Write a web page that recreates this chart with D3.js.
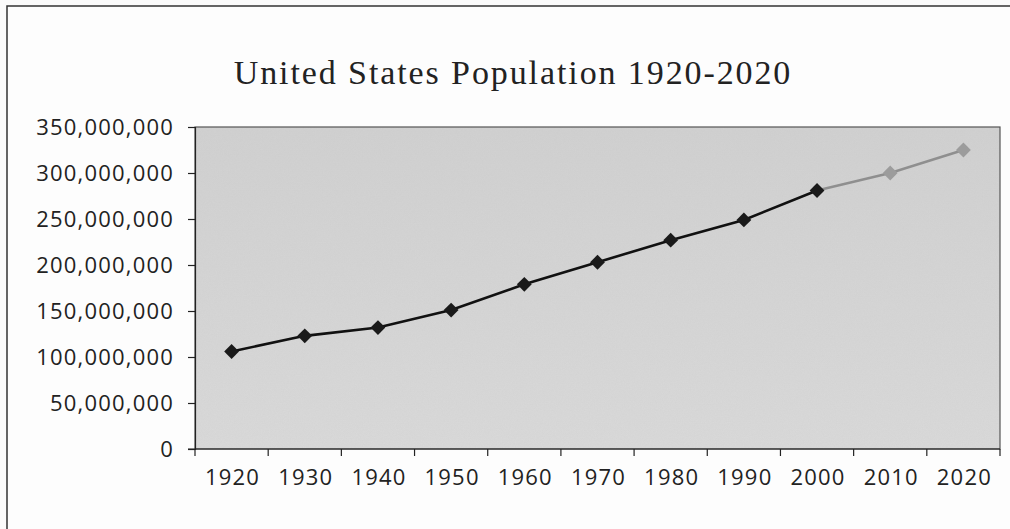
<!DOCTYPE html>
<html>
<head>
<meta charset="utf-8">
<script src="https://cdn.jsdelivr.net/npm/d3@7"></script>
<style>
  html, body { margin: 0; padding: 0; background: #fbfbfb; }
  svg { display: block; }
</style>
</head>
<body>
<svg id="chart" width="1010" height="529"></svg>
<script>
const title = "United States Population 1920-2020";
const years = ["1920","1930","1940","1950","1960","1970","1980","1990","2000","2010","2020"];
const actualYears = ["1920","1930","1940","1950","1960","1970","1980","1990","2000"];
const actualValues = [106000000, 123000000, 132000000, 151000000, 179000000, 203000000, 227000000, 249000000, 281000000];
const projYears = ["2000","2010","2020"];
const projValues = [281000000, 300000000, 325000000];
const yTicks = [0, 50000000, 100000000, 150000000, 200000000, 250000000, 300000000, 350000000];

const svg = d3.select("#chart");
const W = 1010, H = 529;
const m = { left: 195, right: 1000, top: 127, bottom: 449 };

const defs = svg.append("defs");
const grad = defs.append("linearGradient").attr("id", "bg").attr("x1", 0).attr("y1", 0).attr("x2", 0).attr("y2", 1);
grad.append("stop").attr("offset", "0%").attr("stop-color", "#d1d1d1");
grad.append("stop").attr("offset", "100%").attr("stop-color", "#dadada");
const f = defs.append("filter").attr("id", "grain").attr("x", 0).attr("y", 0).attr("width", 1).attr("height", 1);
f.append("feTurbulence").attr("type", "fractalNoise").attr("baseFrequency", 0.85).attr("numOctaves", 2).attr("seed", 3).attr("result", "n");
f.append("feColorMatrix").attr("in", "n").attr("type", "matrix")
  .attr("values", "0 0 0 0 0.5  0 0 0 0 0.5  0 0 0 0 0.5  0 0 0 0.35 0");

// outer frame
svg.append("rect").attr("x", 7).attr("y", 6).attr("width", W + 20).attr("height", H + 20)
  .attr("fill", "#fdfdfd").attr("stroke", "#333").attr("stroke-width", 1.5);

const x = d3.scaleBand().domain(years).range([m.left, m.right]).paddingInner(0).paddingOuter(0);
const y = d3.scaleLinear().domain([0, 350000000]).range([m.bottom, m.top]);

// plot area
svg.append("rect").attr("x", m.left).attr("y", m.top)
  .attr("width", m.right - m.left).attr("height", m.bottom - m.top)
  .attr("fill", "url(#bg)");
svg.append("rect").attr("x", m.left).attr("y", m.top)
  .attr("width", m.right - m.left).attr("height", m.bottom - m.top)
  .attr("fill", "#000").attr("filter", "url(#grain)").attr("opacity", 0.5);
svg.append("rect").attr("x", m.left).attr("y", m.top)
  .attr("width", m.right - m.left).attr("height", m.bottom - m.top)
  .attr("fill", "none").attr("stroke", "#555").attr("stroke-width", 1.2);

// title
svg.append("text").attr("x", 513).attr("y", 84).attr("text-anchor", "middle")
  .attr("font-family", "'Liberation Serif', 'DejaVu Serif', serif")
  .attr("font-size", 34).attr("letter-spacing", 1.9).attr("fill", "#222")
  .text(title);

const labelFont = "'Open Sans', 'DejaVu Sans', sans-serif";

// y axis
const yAxis = d3.axisLeft(y).tickValues(yTicks).tickSize(7).tickPadding(14)
  .tickFormat(d3.format(","));
const gy = svg.append("g").attr("transform", `translate(${m.left},0)`).call(yAxis);
gy.select(".domain").attr("stroke", "#222").attr("stroke-width", 1.2);
gy.selectAll(".tick line").attr("stroke", "#222").attr("stroke-width", 1.2);
gy.selectAll(".tick text").attr("font-family", labelFont).attr("font-size", 22)
  .attr("font-weight", 400).attr("letter-spacing", 1.2).attr("fill", "#222");

// x axis: ticks between categories
const xTickPos = d3.range(years.length + 1).map(i => m.left + i * x.bandwidth());
const gx = svg.append("g");
gx.append("line").attr("x1", m.left - 7).attr("x2", m.right).attr("y1", m.bottom).attr("y2", m.bottom)
  .attr("stroke", "#222").attr("stroke-width", 1.2);
gx.selectAll("line.tk").data(xTickPos).join("line").attr("class", "tk")
  .attr("x1", d => d).attr("x2", d => d).attr("y1", m.bottom).attr("y2", m.bottom + 7)
  .attr("stroke", "#222").attr("stroke-width", 1.2);
gx.selectAll("text").data(years).join("text")
  .attr("x", d => x(d) + x.bandwidth() / 2 + 1).attr("y", m.bottom + 36)
  .attr("text-anchor", "middle").attr("font-family", labelFont).attr("font-size", 22)
  .attr("font-weight", 400).attr("letter-spacing", 1.2).attr("fill", "#222").text(d => d);

const cx = d => x(d) + x.bandwidth() / 2;
const line = d3.line().x(d => cx(d[0])).y(d => y(d[1]));

const proj = projYears.map((d, i) => [d, projValues[i]]);
const act = actualYears.map((d, i) => [d, actualValues[i]]);

svg.append("path").datum(proj).attr("d", line).attr("fill", "none")
  .attr("stroke", "#8f8f8f").attr("stroke-width", 2.4);
svg.append("path").datum(act).attr("d", line).attr("fill", "none")
  .attr("stroke", "#111").attr("stroke-width", 2.6);

const diamond = d3.symbol().type(d3.symbolDiamond2).size(140);
svg.selectAll("path.pm").data(proj.slice(1)).join("path").attr("class", "pm")
  .attr("d", diamond).attr("transform", d => `translate(${cx(d[0])},${y(d[1])})`)
  .attr("fill", "#9c9c9c");
svg.selectAll("path.am").data(act).join("path").attr("class", "am")
  .attr("d", diamond).attr("transform", d => `translate(${cx(d[0])},${y(d[1])})`)
  .attr("fill", "#1a1a1a");
</script>
</body>
</html>
